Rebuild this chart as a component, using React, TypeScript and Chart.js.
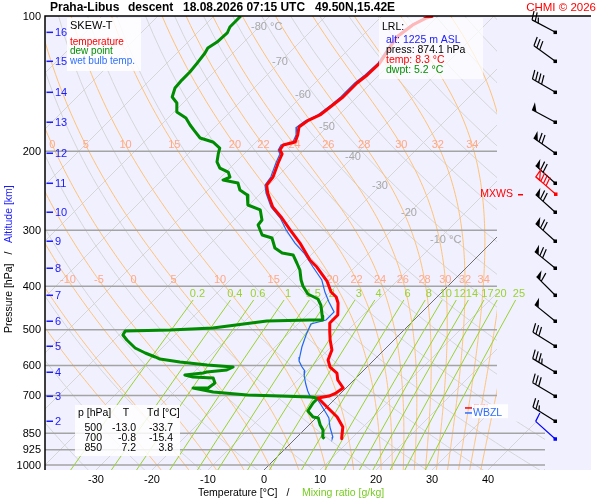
import React, { useEffect, useRef } from "react";
import Chart from "chart.js/auto";

// sounding: pressure [hPa] and value [°C]
const tempP = [100, 101.0, 104.7, 111.4, 127.3, 135.3, 141.0, 151.5, 157.8, 166.1, 171.3, 176.7, 184.1, 190.8, 193.8, 198.8, 202.9, 212.5, 228.4, 238.0, 247.9, 266.4, 281.8, 299.6, 320.4, 349.5, 362.3, 389.3, 411.9, 422.5, 435.7, 463.4, 482.8, 505.6, 526.8, 554.5, 583.7, 605.0, 623.9, 646.7, 673.8, 691.3, 702.1, 709.3, 742.8, 781.8, 823.0, 866.3, 874.1];
const tempC = [-50.9, -51.7, -52.9, -53.6, -52.0, -52.1, -52.5, -52.5, -52.9, -53.4, -54.6, -55.0, -53.8, -53.0, -54.6, -54.3, -53.2, -52.3, -50.7, -50.4, -48.8, -45.4, -41.8, -38.2, -34.1, -29.3, -26.8, -22.5, -19.8, -18.0, -16.6, -14.5, -14.5, -12.9, -11.4, -9.3, -8.2, -6.6, -4.3, -2.9, -0.5, -0.9, -1.6, -3.2, 0.0, 3.6, 6.4, 8.0, 8.3];

const dewP = [100, 105.8, 109.1, 114.3, 117.8, 120.9, 127.3, 133.3, 138.9, 144.7, 151.5, 156.2, 163.6, 168.7, 174.9, 180.4, 186.9, 190.8, 196.8, 202.9, 211.4, 218.1, 222.6, 228.4, 231.9, 235.5, 244.1, 250.4, 263.6, 270.4, 284.7, 292.1, 307.4, 312.2, 328.6, 337.2, 340.6, 354.9, 367.9, 387.3, 399.4, 416.1, 426.9, 440.3, 465.8, 475.4, 475.6, 477.8, 495.3, 500.4, 503.0, 513.4, 526.8, 548.8, 563.1, 574.7, 580.7, 589.7, 598.8, 605.0, 614.4, 620.7, 623.9, 630.3, 636.8, 640.1, 656.7, 673.8, 674.0, 687.8, 698.4, 702.1, 705.6, 709.3, 727.7, 758.1, 781.8, 785.8, 814.5, 835.7, 866.3, 874.1];
const dewC = [-85.2, -85.2, -84.6, -84.8, -85.4, -85.0, -84.6, -84.3, -84.3, -84.1, -83.0, -81.1, -79.5, -76.8, -74.8, -72.9, -70.7, -67.7, -65.4, -64.6, -63.4, -61.8, -59.6, -58.4, -59.1, -55.9, -54.3, -52.1, -50.2, -47.1, -45.0, -44.8, -42.3, -40.0, -37.7, -35.5, -33.2, -31.1, -29.3, -27.3, -25.9, -23.6, -20.9, -19.3, -17.1, -16.3, -18.6, -26.1, -34.5, -41.8, -49.6, -49.3, -47.7, -44.8, -42.1, -39.6, -38.4, -34.3, -28.9, -23.9, -24.5, -27.7, -28.2, -31.1, -29.3, -25.5, -24.3, -24.6, -27.3, -23.0, -16.4, -10.4, -4.8, -3.2, -3.2, -2.7, -0.7, 0.4, 2.0, 3.4, 4.6, 5.2];

const wetP = [100, 101.0, 104.7, 111.4, 127.3, 135.3, 141.0, 151.5, 157.8, 166.1, 171.3, 176.7, 184.1, 190.8, 193.8, 198.8, 202.9, 212.5, 228.4, 238.0, 247.9, 266.4, 281.8, 299.6, 320.4, 337.2, 362.3, 387.3, 411.9, 433.5, 456.3, 475.4, 485.3, 500.4, 513.4, 546.0, 574.7, 586.7, 605.0, 617.5, 633.6, 660.1, 684.2, 702.1, 712.9, 735.2, 766.0, 785.8, 823.0, 866.3, 874.1];
const wetC = [-51.3, -52.1, -53.2, -53.9, -52.3, -52.5, -52.9, -52.9, -53.2, -53.8, -55.0, -55.4, -54.1, -53.4, -55.0, -54.6, -53.6, -52.7, -51.1, -50.7, -49.1, -45.7, -42.1, -38.9, -35.0, -31.6, -27.5, -23.6, -20.9, -18.4, -15.7, -15.7, -17.7, -17.1, -16.6, -15.2, -13.8, -13.2, -11.6, -10.4, -9.6, -7.9, -6.3, -5.0, -3.2, -1.4, 0.9, 2.3, 4.1, 6.4, 6.6];

const pressureTicks = [100, 200, 300, 400, 500, 600, 700, 850, 925, 1000];
const tempTicks = [-30, -20, -10, 0, 10, 20, 30, 40];

// altitude marks and winds at each km
const altKm = [16, 15, 14, 13, 12, 11, 10, 9, 8, 7, 6, 5, 4, 3, 2];
const altP = [108.6, 126.0, 147.7, 172.2, 201.9, 235.5, 273.2, 317.0, 364.1, 418.3, 477.8, 543.2, 620.7, 702.1, 798.0];
const windDir = [298, 306, 300, 298, 305, 312, 312, 312, 309, 315, 309, 302, 301, 301, 302];
const windKt = [25, 30, 40, 50, 70, 70, 70, 70, 70, 60, 50, 30, 35, 30, 25];

const mxwsP = 249.1;
const mxwsDir = 311;
const mxwsKt = 80;
const fzlP = 745.4;
const wbzlP = 764.8;

const lrlAlt = 1225;
const lrlP = 874.1;
const lrlT = 8.3;
const lrlTd = 5.2;
const lrlDir = 312;
const lrlKt = 10;

const tableP = [500, 700, 850];
const tableT = [-13.0, -0.8, 7.2];
const tableTd = [-33.7, -15.4, 3.8];

// reference lines of the diagram
const isotherms = [-140, -130, -120, -110, -100, -90, -80, -70, -60, -50, -40, -30, -20, -10, 0, 10, 20, 30, 40, 50];
const isoLabelT = [-80, -70, -60, -50, -40, -30, -20, -10];
const isoLabelP = [105.8, 126.6, 150.0, 176.7, 206.1, 239.1, 274.6, 315.4];
const dryTheta = [200, 210, 220, 230, 240, 250, 260, 270, 280, 290, 300, 310, 320, 330, 340, 350, 360, 370, 380, 390, 400, 410, 420, 430, 440, 450, 460, 470, 480, 490, 500];
const moistThetaW = [-20, -15, -10, -5, 0, 5, 10, 15, 20, 22, 24, 26, 28, 30, 32, 34, 36, 38];
const moistLabelP = [193.8, 387.3];
const mixRatios = [0.2, 0.4, 0.6, 1, 1.5, 2, 3, 4, 6, 8, 10, 12, 14, 17, 20, 25];
const mixLabelP = 416.1;
const mixTopP = 429;

const SKEW = 449 / 5.6;
const P_BOTTOM = Math.pow(10, 2 + 454 / 449);
const X_MIN = -219 / 5.6;
const X_MAX = 233 / 5.6;
const FONT = "'Liberation Sans', Arial, Helvetica, sans-serif";

const skewX = (t: number, p: number) => t + SKEW * Math.log10(P_BOTTOM / p);

const satVap = (tc: number) => 6.112 * Math.exp((17.67 * tc) / (tc + 243.5));

const moistLapse = (p: number, tc: number) => {
  const T = tc + 273.15;
  const es = satVap(tc);
  const rs = (0.622 * es) / (p - es);
  const L = 2.501e6;
  return (287.04 * T + L * rs) / (1005.7 + (L * L * rs * 0.622) / (287.04 * T * T)) / p;
};

const moistCurve = (tw: number) => {
  const rk = (p: number, t: number, h: number) => {
    const k1 = moistLapse(p, t);
    const k2 = moistLapse(p + h / 2, t + (h / 2) * k1);
    const k3 = moistLapse(p + h / 2, t + (h / 2) * k2);
    const k4 = moistLapse(p + h, t + h * k3);
    return t + (h / 6) * (k1 + 2 * k2 + 2 * k3 + k4);
  };
  const up: number[][] = [[1000, tw]];
  let t = tw;
  for (let p = 1000; p > 100; p -= 5) {
    t = rk(p, t, -5);
    up.push([p - 5, t]);
  }
  const down: number[][] = [];
  t = tw;
  for (let p = 1000; p < 1030; p += 5) {
    t = rk(p, t, 5);
    down.unshift([p + 5, t]);
  }
  return down.concat(up);
};

const moistCurves = moistThetaW.map(moistCurve);

const interpT = (curve: number[][], p: number) => {
  for (let i = 1; i < curve.length; i++) {
    const [p0, t0] = curve[i - 1];
    const [p1, t1] = curve[i];
    if ((p0 - p) * (p1 - p) <= 0) return t0 + ((t1 - t0) * (p - p0)) / (p1 - p0);
  }
  return NaN;
};

const mixTd = (r: number, p: number) => {
  const e = (r * p) / (622 + r);
  const l = Math.log(e / 6.112);
  return (243.5 * l) / (17.67 - l);
};

const drawBarb = (
  ctx: CanvasRenderingContext2D,
  x: number,
  y: number,
  dir: number,
  kt: number,
  color: string,
  hollow = false
) => {
  const rad = (dir * Math.PI) / 180;
  const ux = Math.sin(rad);
  const uy = -Math.cos(rad);
  const nx = -uy;
  const ny = ux;
  const tx = x + ux * 26;
  const ty = y + uy * 26;
  ctx.strokeStyle = color;
  ctx.fillStyle = color;
  ctx.lineWidth = 1.2;
  ctx.beginPath();
  ctx.moveTo(x, y);
  ctx.lineTo(tx, ty);
  ctx.stroke();
  ctx.fillRect(x - 1.5, y - 1.5, 3.5, 3.5);
  let rest = Math.round(kt / 5) * 5;
  let d = 0;
  while (rest >= 50) {
    const bx = tx - ux * d;
    const by = ty - uy * d;
    ctx.beginPath();
    ctx.moveTo(bx, by);
    ctx.lineTo(bx + nx * 8 + ux * 1, by + ny * 8 + uy * 1);
    ctx.lineTo(bx - ux * 5, by - uy * 5);
    ctx.closePath();
    if (hollow) ctx.stroke();
    else ctx.fill();
    d += 6.5;
    rest -= 50;
  }
  while (rest >= 5) {
    const bx = tx - ux * d;
    const by = ty - uy * d;
    const len = rest >= 10 ? 9 : 5;
    ctx.beginPath();
    ctx.moveTo(bx, by);
    ctx.lineTo(bx + nx * len + ux * 2.5, by + ny * len + uy * 2.5);
    ctx.stroke();
    d += 3.5;
    rest -= rest >= 10 ? 10 : 5;
  }
};

const skewPlugin = {
  id: "skewT",
  beforeDatasetsDraw(chart: Chart) {
    const { ctx, chartArea: a } = chart;
    const xs = chart.scales.x;
    const ys = chart.scales.y;
    const px = (t: number, p: number) => xs.getPixelForValue(skewX(t, p));
    const py = (p: number) => ys.getPixelForValue(p);
    const path = (pts: number[][], color: string, width: number) => {
      ctx.beginPath();
      pts.forEach(([p, t], i) => {
        if (i === 0) ctx.moveTo(px(t, p), py(p));
        else ctx.lineTo(px(t, p), py(p));
      });
      ctx.strokeStyle = color;
      ctx.lineWidth = width;
      ctx.stroke();
    };

    ctx.save();
    ctx.fillStyle = "#f0f0ff";
    ctx.fillRect(a.left, a.top, a.right + 94 - a.left, a.bottom - a.top);

    ctx.save();
    ctx.beginPath();
    ctx.rect(a.left, a.top, a.right - a.left, a.bottom - a.top);
    ctx.rect(a.right, py(800), 48, a.bottom - py(800));
    ctx.clip();

    isotherms.forEach((t) => {
      if (t !== 0) path([[P_BOTTOM, t], [100, t]], "#d6d6d6", 1);
    });
    dryTheta.forEach((th) => {
      const pts: number[][] = [];
      for (let p = 1030; p >= 100; p -= 10) pts.push([p, th * Math.pow(p / 1000, 0.2857) - 273.15]);
      path(pts, "#d6d6d6", 1);
    });
    moistCurves.forEach((c) => path(c, "#ffc276", 1));
    path([[P_BOTTOM, 0], [100, 0]], "#6e6e6e", 1);

    pressureTicks.forEach((p) => {
      if (p === 100) return;
      ctx.beginPath();
      ctx.moveTo(a.left, py(p));
      ctx.lineTo(p >= 850 ? a.right + 48 : a.right, py(p));
      ctx.strokeStyle = "#a4a4a4";
      ctx.lineWidth = 1.5;
      ctx.stroke();
    });
    ctx.restore();

    // mixing ratio lines run past the right edge of the diagram
    ctx.save();
    ctx.beginPath();
    ctx.rect(a.left, a.top, a.right + 48 - a.left, a.bottom - a.top);
    ctx.clip();
    mixRatios.forEach((r) => {
      const pts: number[][] = [];
      for (let i = 0; i <= 8; i++) {
        const p = P_BOTTOM + ((mixTopP - P_BOTTOM) * i) / 8;
        pts.push([p, mixTd(r, p)]);
      }
      path(pts, "#9ad22e", 1);
    });
    ctx.restore();

    ctx.textAlign = "center";
    ctx.textBaseline = "middle";
    ctx.font = `11px ${FONT}`;
    ctx.fillStyle = "#ffa888";
    moistLabelP.forEach((lp) => {
      moistCurves.forEach((c, i) => {
        const x = px(interpT(c, lp), lp);
        if (x >= a.left + 3 && x <= a.right - 10) ctx.fillText(String(moistThetaW[i]), x, py(lp));
      });
    });

    ctx.fillStyle = "#9ad22e";
    mixRatios.forEach((r) => {
      ctx.fillText(String(r), px(mixTd(r, mixLabelP), mixLabelP), py(mixLabelP));
    });

    ctx.fillStyle = "#a8a8a8";
    isoLabelT.forEach((t, i) => {
      const lp = isoLabelP[i];
      const x = px(t, lp);
      const s = String(t);
      ctx.textAlign = "center";
      ctx.fillText(s, x, py(lp));
      if (i === 0 || i === isoLabelT.length - 1) {
        ctx.textAlign = "left";
        ctx.fillText(" °C", x + ctx.measureText(s).width / 2, py(lp));
      }
    });
    ctx.restore();
  },
  afterDatasetsDraw(chart: Chart) {
    const { ctx, chartArea: a } = chart;
    const xs = chart.scales.x;
    const ys = chart.scales.y;
    const py = (p: number) => ys.getPixelForValue(p);
    const text = (s: string, x: number, y: number, color: string, size: number, align: CanvasTextAlign = "left", weight = "") => {
      ctx.font = `${weight} ${size}px ${FONT}`;
      ctx.fillStyle = color;
      ctx.textAlign = align;
      ctx.textBaseline = "middle";
      ctx.fillText(s, x, y);
    };

    ctx.save();

    // legend
    ctx.fillStyle = "rgba(255,255,255,0.85)";
    ctx.fillRect(67, 18, 74, 53);
    text("SKEW-T", 70, 26, "#000", 11);
    text("temperature", 70, 42, "#ff0000", 10);
    text("dew point", 70, 51.5, "#009000", 10);
    text("wet bulb temp.", 70, 61, "#2f6fff", 10);

    // launch point box
    ctx.fillStyle = "rgba(255,255,255,0.72)";
    ctx.fillRect(379, 18, 104, 61);
    text("LRL:", 382, 27, "#000", 10.5);
    text(`alt: ${lrlAlt} m ASL`, 386, 40, "#1a1aff", 10.5);
    text(`press: ${lrlP.toFixed(1)} hPa`, 386, 50, "#000", 10.5);
    text(`temp: ${lrlT.toFixed(1)} °C`, 386, 60.5, "#ff0000", 10.5);
    text(`dwpt: ${lrlTd.toFixed(1)} °C`, 386, 70.5, "#009000", 10.5);

    // standard levels table
    ctx.fillStyle = "rgba(255,255,255,0.85)";
    ctx.fillRect(75, 405, 105, 51);
    text("p [hPa]", 78, 413, "#000", 10.5);
    text("T", 126, 413, "#000", 10.5, "center");
    text("Td [°C]", 147, 413, "#000", 10.5);
    tableP.forEach((p, i) => {
      const y = 428 + i * 10;
      text(String(p), 102, y, "#000", 10.5, "right");
      text(tableT[i].toFixed(1), 136, y, "#000", 10.5, "right");
      text(tableTd[i].toFixed(1), 173, y, "#000", 10.5, "right");
    });

    // freezing levels
    const yf = py(fzlP);
    const yw = py(wbzlP);
    ctx.fillStyle = "#ff0000";
    ctx.fillRect(465, yf - 0.5, 7, 1.5);
    text("FZL", 473, yf + 1, "#ff0000", 10.5);
    ctx.fillStyle = "rgba(255,255,255,0.92)";
    ctx.fillRect(472, yf - 3.5, 36, yw - yf + 9);
    ctx.fillStyle = "#2f6fff";
    ctx.fillRect(465, yw - 0.5, 7, 1.5);
    text("WBZL", 473, yw + 0.5, "#2f6fff", 10.5);

    // max wind
    const ym = py(mxwsP);
    text("MXWS", 513, ym + 0.5, "#ff0000", 10.5, "right");
    ctx.fillStyle = "#ff0000";
    ctx.fillRect(518, ym, 5, 1.5);

    // wind barbs
    const bx = a.right + 58;
    altP.forEach((p, i) => drawBarb(ctx, bx, py(p), windDir[i], windKt[i], "#000"));
    drawBarb(ctx, bx + 0.5, ym, mxwsDir, mxwsKt, "#ff0000", true);
    drawBarb(ctx, bx, py(lrlP), lrlDir, lrlKt, "#0000ff");

    // altitude marks
    altKm.forEach((km, i) => {
      const y = py(altP[i]);
      ctx.fillStyle = "#1a1aff";
      ctx.fillRect(a.left + 1.5, y - 0.5, 6.5, 1.5);
      text(String(km), a.left + 10, y + 0.5, "#1a1aff", 11);
    });

    // frame
    ctx.strokeStyle = "#000";
    ctx.lineWidth = 1.5;
    ctx.beginPath();
    ctx.moveTo(a.left, a.bottom);
    ctx.lineTo(a.left, a.top);
    ctx.lineTo(a.right + 94, a.top);
    ctx.stroke();

    // axes
    pressureTicks.forEach((p) => text(String(p), a.left - 4, py(p) + 0.5, "#000", 11, "right"));
    tempTicks.forEach((t) => text(String(t), xs.getPixelForValue(t), 480, "#000", 11, "center"));
    text("Temperature [°C]", 198, 493, "#000", 10.5);
    text("/", 288, 493, "#000", 10.5, "center");
    text("Mixing ratio [g/kg]", 302, 493, "#77cc22", 10.5);

    ctx.save();
    ctx.translate(9, 333);
    ctx.rotate(-Math.PI / 2);
    text("Pressure [hPa]", 0, 0, "#000", 10.5);
    text("/", 80, 0, "#000", 10.5, "center");
    text("Altitude [km]", 90, 0, "#1a1aff", 10.5);
    ctx.restore();

    // title
    text("Praha-Libus", 50, 8, "#000", 12, "left", "bold");
    text("descent", 128, 8, "#000", 12, "left", "bold");
    text("18.08.2026 07:15 UTC", 183, 8, "#000", 12, "left", "bold");
    text("49.50N,15.42E", 315, 8, "#000", 12, "left", "bold");
    text("CHMI © 2026", 596, 8, "#ff0000", 11.5, "right");

    ctx.restore();
  },
};

const toPoints = (ps: number[], ts: number[]) => ps.map((p, i) => ({ x: skewX(ts[i], p), y: p }));

const App: React.FC = () => {
  const chartRef = useRef<HTMLCanvasElement | null>(null);

  useEffect(() => {
    document.body.style.margin = "0";
    if (!chartRef.current) return;
    const ctx = chartRef.current.getContext("2d");
    if (!ctx) return;

    const chart = new Chart(ctx, {
      type: "scatter",
      data: {
        datasets: [
          {
            label: "temperature",
            data: toPoints(tempP, tempC),
            showLine: true,
            borderColor: "#ff0000",
            borderWidth: 3,
            pointRadius: 0,
            borderJoinStyle: "round",
          },
          {
            label: "dew point",
            data: toPoints(dewP, dewC),
            showLine: true,
            borderColor: "#008c00",
            borderWidth: 3,
            pointRadius: 0,
            borderJoinStyle: "round",
          },
          {
            label: "wet bulb temp.",
            data: toPoints(wetP, wetC),
            showLine: true,
            borderColor: "#2266ee",
            borderWidth: 1.2,
            pointRadius: 0,
          },
        ],
      },
      options: {
        animation: false,
        responsive: true,
        maintainAspectRatio: false,
        events: [],
        layout: { padding: { left: 45, top: 16, right: 103, bottom: 30 } },
        scales: {
          x: { type: "linear", display: false, min: X_MIN, max: X_MAX },
          y: { type: "logarithmic", display: false, reverse: true, min: 100, max: P_BOTTOM },
        },
        plugins: {
          legend: { display: false },
          tooltip: { enabled: false },
        },
      },
      plugins: [skewPlugin],
    });
    return () => {
      if (chart) {
        chart.destroy();
      }
    };
  }, []);

  return (
    <div style={{ width: 600, height: 500, position: "relative" }}>
      <canvas ref={chartRef} />
    </div>
  );
};

export default App;
